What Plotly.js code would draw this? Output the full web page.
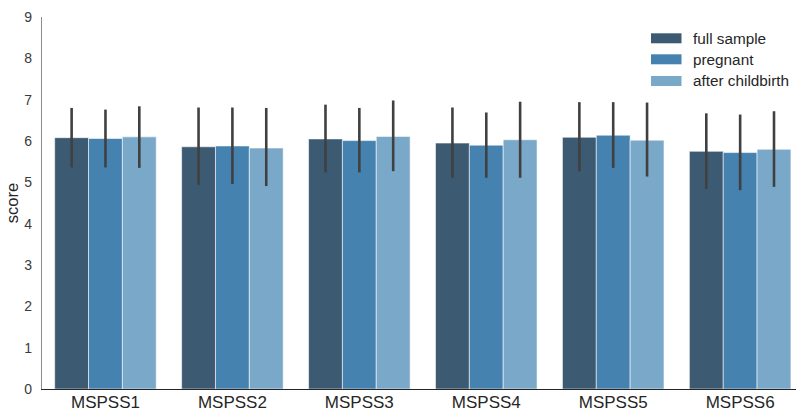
<!DOCTYPE html>
<html>
<head>
<meta charset="utf-8">
<script src="https://cdn.plot.ly/plotly-3.0.1.min.js"></script>
<style>html,body{margin:0;padding:0;background:#fff}#chart{width:796px;height:412px}</style>
</head>
<body>
<div id="chart"></div>
<script>
const categories = ["MSPSS1","MSPSS2","MSPSS3","MSPSS4","MSPSS5","MSPSS6"];
const seriesNames = ["full sample","pregnant","after childbirth"];
const fullSample = [6.08, 5.86, 6.05, 5.95, 6.09, 5.75];
const fullHigh   = [6.80, 6.81, 6.88, 6.81, 6.94, 6.67];
const fullLow    = [5.36, 4.94, 5.24, 5.11, 5.27, 4.84];
const pregnant   = [6.06, 5.88, 6.01, 5.90, 6.14, 5.72];
const pregHigh   = [6.76, 6.81, 6.80, 6.69, 6.94, 6.64];
const pregLow    = [5.36, 4.96, 5.24, 5.11, 5.35, 4.81];
const afterBirth = [6.10, 5.83, 6.11, 6.03, 6.02, 5.80];
const afterHigh  = [6.84, 6.80, 6.98, 6.95, 6.93, 6.72];
const afterLow   = [5.35, 4.91, 5.27, 5.11, 5.14, 4.89];
const yTicks = [0,1,2,3,4,5,6,7,8,9];

const colors = ["#3c5a72", "#4682b0", "#7aa8c9"];
const values = [fullSample, pregnant, afterBirth];
const highs = [fullHigh, pregHigh, afterHigh];
const lows = [fullLow, pregLow, afterLow];
const FONT = "Liberation Sans, Arial, sans-serif";

const traces = values.map((v, i) => ({
  type: "bar",
  name: seriesNames[i],
  x: categories,
  y: v,
  marker: {color: colors[i], line: {color: "rgba(255,255,255,0.55)", width: 1}},
  error_y: {
    type: "data", symmetric: false,
    array: v.map((y, k) => highs[i][k] - y),
    arrayminus: v.map((y, k) => y - lows[i][k]),
    color: "#404040", thickness: 2.6, width: 0
  },
  showlegend: false,
  hoverinfo: "skip"
}));

const shapes = [];
const annotations = [];
const legY = [38.3, 59.3, 81];
seriesNames.forEach((n, i) => {
  const yp = (412 - legY[i] - 23) / (412 - 17 - 23);
  const h = 5 / 372;
  shapes.push({type: "rect", xref: "paper", yref: "paper",
    x0: (651 - 42) / 754, x1: (681.5 - 42) / 754, y0: yp - h, y1: yp + h,
    fillcolor: colors[i], line: {width: 0}});
  annotations.push({xref: "paper", yref: "paper", x: (691 - 42) / 754, y: yp,
    xanchor: "left", yanchor: "middle", text: n, showarrow: false,
    font: {family: FONT, size: 15.3, color: "#262626"}});
});

const layout = {
  width: 796, height: 412,
  margin: {l: 42, r: 0, t: 17, b: 23, pad: 0},
  paper_bgcolor: "#fff", plot_bgcolor: "#fff",
  barmode: "group", bargap: 0.2, bargroupgap: 0,
  font: {family: FONT, color: "#262626"},
  xaxis: {
    range: [-0.5, 5.44], showgrid: false, zeroline: false,
    showline: true, linecolor: "#262626", linewidth: 1.2,
    ticks: "", tickfont: {size: 17, color: "#262626"}, ticklabelstandoff: -3
  },
  yaxis: {
    range: [0, 9], tickvals: yTicks, showgrid: false, zeroline: false,
    showline: true, linecolor: "#8c8c8c", linewidth: 1.2,
    ticks: "", tickfont: {size: 14, color: "#3a3a3a"}, ticklabelstandoff: 6,
    title: {text: "score", font: {size: 16.5, color: "#262626"}, standoff: 1}
  },
  shapes: shapes,
  annotations: annotations,
  showlegend: false
};

Plotly.newPlot("chart", traces, layout, {staticPlot: true, displayModeBar: false});
</script>
</body>
</html>
